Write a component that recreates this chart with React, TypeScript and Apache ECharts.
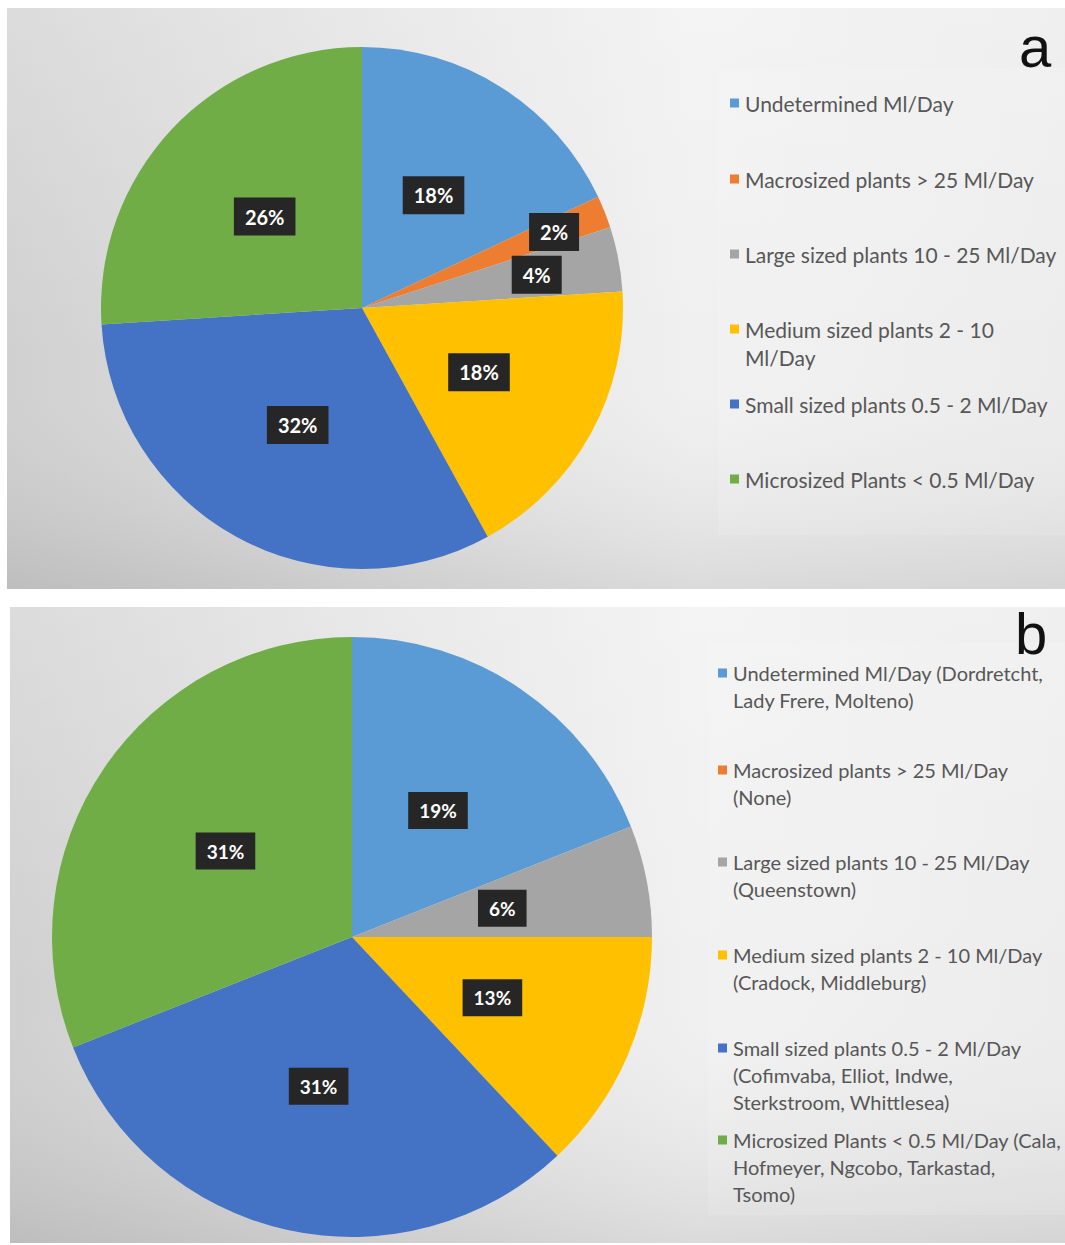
import React, { useEffect, useRef } from "react";
import * as echarts from "echarts";

// Slice colours (Office palette), one per plant-size class
const SLICE_COLORS = ["#5B9BD5", "#ED7D31", "#A5A5A5", "#FFC000", "#4472C4", "#70AD47"];

// Panel a: share of treatment plants per capacity class (%)
const NAMES_A = [
  "Undetermined Ml/Day",
  "Macrosized plants > 25 Ml/Day",
  "Large sized plants 10 - 25 Ml/Day",
  "Medium sized plants 2 - 10 Ml/Day",
  "Small sized plants 0.5 - 2 Ml/Day",
  "Microsized Plants < 0.5 Ml/Day",
];
const VALUES_A = [18, 2, 4, 18, 32, 26];
const LEGEND_LINES_A = [
  ["Undetermined Ml/Day"],
  ["Macrosized plants > 25 Ml/Day"],
  ["Large sized plants 10 - 25 Ml/Day"],
  ["Medium sized plants 2 - 10", "Ml/Day"],
  ["Small sized plants 0.5 - 2 Ml/Day"],
  ["Microsized Plants < 0.5 Ml/Day"],
];

// Panel b: same classes, with the towns in each class
const NAMES_B = [
  "Undetermined Ml/Day (Dordretcht, Lady Frere, Molteno)",
  "Macrosized plants > 25 Ml/Day (None)",
  "Large sized plants 10 - 25 Ml/Day (Queenstown)",
  "Medium sized plants 2 - 10 Ml/Day (Cradock, Middleburg)",
  "Small sized plants 0.5 - 2 Ml/Day (Cofimvaba, Elliot, Indwe, Sterkstroom, Whittlesea)",
  "Microsized Plants < 0.5 Ml/Day (Cala, Hofmeyer, Ngcobo, Tarkastad, Tsomo)",
];
const VALUES_B = [19, 0, 6, 13, 31, 31];
const LEGEND_LINES_B = [
  ["Undetermined Ml/Day (Dordretcht,", "Lady Frere, Molteno)"],
  ["Macrosized plants > 25 Ml/Day", "(None)"],
  ["Large sized plants 10 - 25 Ml/Day", "(Queenstown)"],
  ["Medium sized plants 2 - 10 Ml/Day", "(Cradock, Middleburg)"],
  ["Small sized plants 0.5 - 2 Ml/Day", "(Cofimvaba, Elliot, Indwe,", "Sterkstroom, Whittlesea)"],
  ["Microsized Plants < 0.5 Ml/Day (Cala,", "Hofmeyer, Ngcobo, Tarkastad,", "Tsomo)"],
];

// Layout
const W = 1065;
const H = 1245;
const FONT = "Lato, 'Open Sans', 'DejaVu Sans', sans-serif";

const PIE_A = { cx: 362, cy: 308, r: 261 };
const PIE_B = { cx: 352, cy: 937, r: 300 };
// radial position (fraction of radius) of each value label
const LABEL_POS_A = [0.5, 0.78, 0.67, 0.5, 0.5, 0.5];
const LABEL_POS_B = [0.5, 0.5, 0.5, 0.5, 0.5, 0.5];

const LEGEND_A = { x: 730, firstY: [103, 179, 254, 329, 404, 479], lineH: 28, fontSize: 21 };
const LEGEND_B = { x: 718, firstY: [673, 770, 862, 955, 1048, 1140], lineH: 27, fontSize: 20 };

const labelStyle = (fontSize: number) => ({
  position: "inside",
  formatter: "{c}%",
  color: "#ffffff",
  fontFamily: FONT,
  fontWeight: "bold",
  fontSize,
  backgroundColor: "#262626",
  padding: [10, 11, 8, 11],
});

function pieSeries(
  id: string,
  names: string[],
  values: number[],
  labelPos: number[],
  geom: { cx: number; cy: number; r: number },
  fontSize: number
) {
  const out: any[] = [];
  const fractions = Array.from(new Set(labelPos));
  // base pie draws the slices and the labels that sit at half radius
  out.push({
    type: "pie",
    id,
    center: [geom.cx, geom.cy],
    radius: [0, geom.r],
    startAngle: 90,
    clockwise: true,
    avoidLabelOverlap: false,
    silent: true,
    emphasis: { disabled: true },
    labelLine: { show: false },
    label: labelStyle(fontSize),
    data: names.map((n, i) => ({
      name: n,
      value: values[i],
      itemStyle: { color: SLICE_COLORS[i] },
      label: { show: labelPos[i] === 0.5 && values[i] > 0 },
    })),
  });
  // transparent rings carry the labels of thin slices further out
  fractions
    .filter((f) => f !== 0.5)
    .forEach((f, k) => {
      out.push({
        type: "pie",
        id: id + "-lbl" + k,
        center: [geom.cx, geom.cy],
        radius: [(2 * f - 1) * geom.r, geom.r],
        startAngle: 90,
        clockwise: true,
        avoidLabelOverlap: false,
        silent: true,
        emphasis: { disabled: true },
        labelLine: { show: false },
        itemStyle: { color: "rgba(0,0,0,0)" },
        label: labelStyle(fontSize),
        data: names.map((n, i) => ({
          name: n,
          value: values[i],
          label: { show: labelPos[i] === f && values[i] > 0 },
        })),
      });
    });
  return out;
}

function legendGraphics(
  lines: string[][],
  cfg: { x: number; firstY: number[]; lineH: number; fontSize: number }
) {
  const els: any[] = [];
  lines.forEach((ls, i) => {
    const y0 = cfg.firstY[i];
    els.push({
      type: "rect",
      shape: { x: cfg.x, y: y0 - 4.5, width: 9, height: 9 },
      style: { fill: SLICE_COLORS[i] },
      silent: true,
    });
    els.push({
      type: "text",
      x: cfg.x + 15,
      y: y0 - cfg.lineH / 2,
      silent: true,
      style: {
        text: ls.join("\n"),
        fontFamily: FONT,
        fontSize: cfg.fontSize,
        lineHeight: cfg.lineH,
        fill: "#575757",
        verticalAlign: "top",
        align: "left",
      },
    });
  });
  return els;
}

function panelBackground(x: number, y: number, w: number, h: number) {
  return [
    {
      type: "rect",
      silent: true,
      shape: { x, y, width: w, height: h },
      style: {
        fill: {
          type: "linear",
          x: 0,
          y: 0,
          x2: 1,
          y2: 0,
          colorStops: [
            { offset: 0, color: "#d0d0d0" },
            { offset: 0.35, color: "#e2e2e2" },
            { offset: 0.65, color: "#f0f0f0" },
            { offset: 1, color: "#eaeaea" },
          ],
        },
      },
    },
    {
      type: "rect",
      silent: true,
      shape: { x, y, width: w, height: h },
      style: {
        fill: {
          type: "linear",
          x: 0,
          y: 0,
          x2: 0,
          y2: 1,
          colorStops: [
            { offset: 0, color: "rgba(255,255,255,0.25)" },
            { offset: 0.6, color: "rgba(255,255,255,0)" },
            { offset: 1, color: "rgba(0,0,0,0.09)" },
          ],
        },
      },
    },
  ];
}

export default function App() {
  const ref = useRef<HTMLDivElement>(null);

  useEffect(() => {
    document.body.style.margin = "0";
    if (!ref.current) return;
    const chart = echarts.init(ref.current, null, { renderer: "svg" });

    const graphic: any[] = [
      ...panelBackground(7, 8, 1058, 581),
      ...panelBackground(10, 607, 1055, 636),
      {
        type: "rect",
        silent: true,
        shape: { x: 718, y: 68, width: 347, height: 467 },
        style: { fill: "rgba(255,255,255,0.12)" },
      },
      {
        type: "rect",
        silent: true,
        shape: { x: 708, y: 642, width: 357, height: 573 },
        style: { fill: "rgba(255,255,255,0.12)" },
      },
      {
        type: "text",
        x: 1035,
        y: 46,
        silent: true,
        style: {
          text: "a",
          fontFamily: "'Liberation Sans', Arial, sans-serif",
          fontSize: 58,
          fill: "#111",
          align: "center",
          verticalAlign: "middle",
        },
      },
      {
        type: "text",
        x: 1031,
        y: 633,
        silent: true,
        style: {
          text: "b",
          fontFamily: "'Liberation Sans', Arial, sans-serif",
          fontSize: 58,
          fill: "#111",
          align: "center",
          verticalAlign: "middle",
        },
      },
      ...legendGraphics(LEGEND_LINES_A, LEGEND_A),
      ...legendGraphics(LEGEND_LINES_B, LEGEND_B),
    ];

    chart.setOption({
      animation: false,
      backgroundColor: "#ffffff",
      graphic: { elements: graphic },
      series: [
        ...pieSeries("pieA", NAMES_A, VALUES_A, LABEL_POS_A, PIE_A, 20),
        ...pieSeries("pieB", NAMES_B, VALUES_B, LABEL_POS_B, PIE_B, 19),
      ],
    });

    return () => chart.dispose();
  }, []);

  return <div ref={ref} style={{ width: W, height: H }} />;
}
